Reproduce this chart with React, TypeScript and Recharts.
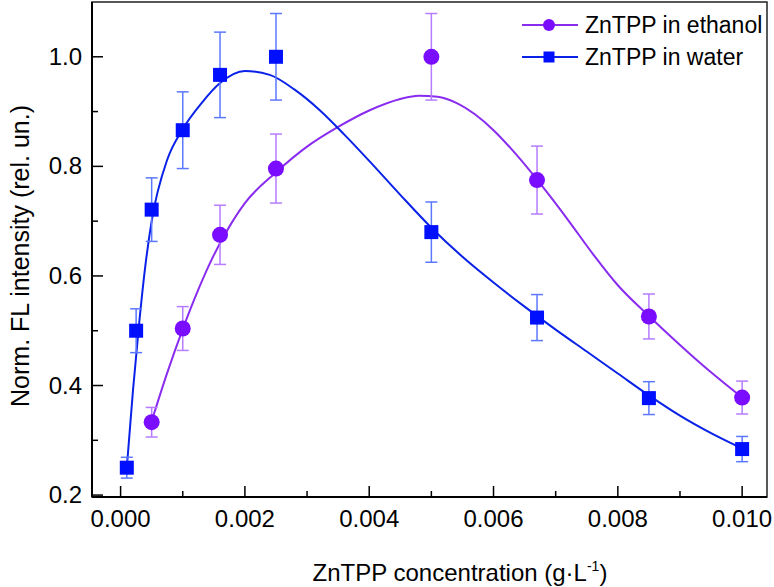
import React from "react";
import { ComposedChart, Line, Scatter, ErrorBar, XAxis, YAxis, ReferenceArea } from "recharts";

// measured points
const ethanolX = [0.0005, 0.001, 0.0016, 0.0025, 0.005, 0.0067, 0.0085, 0.01];
const ethanolY = [0.333, 0.504, 0.675, 0.796, 1.0, 0.775, 0.526, 0.378];
const ethanolErr = [0.027, 0.04, 0.054, 0.063, 0.079, 0.062, 0.041, 0.03];

const waterX = [0.0001, 0.00025, 0.0005, 0.001, 0.0016, 0.0025, 0.005, 0.0067, 0.0085, 0.01];
const waterY = [0.25, 0.5, 0.721, 0.866, 0.967, 1.0, 0.68, 0.524, 0.377, 0.284];
const waterErr = [0.019, 0.04, 0.058, 0.07, 0.078, 0.079, 0.055, 0.042, 0.03, 0.023];

// fitted curves
const ethanolFitX = [0.0005, 0.00075, 0.001, 0.00125, 0.0015, 0.00175, 0.002, 0.0025, 0.003, 0.0035, 0.004, 0.0045, 0.0048, 0.0051, 0.0054, 0.0057, 0.006, 0.0063, 0.0066, 0.0069, 0.0072, 0.0076, 0.008, 0.0085, 0.009, 0.0095, 0.01];
const ethanolFitY = [0.335, 0.423, 0.503, 0.575, 0.638, 0.69, 0.733, 0.789, 0.836, 0.872, 0.902, 0.923, 0.929, 0.927, 0.916, 0.895, 0.866, 0.83, 0.79, 0.747, 0.702, 0.64, 0.583, 0.527, 0.474, 0.424, 0.378];

const waterFitX = [0.0001, 0.0002, 0.0003, 0.0004, 0.0005, 0.00075, 0.001, 0.0013, 0.0016, 0.002, 0.0024, 0.0028, 0.0032, 0.0036, 0.004, 0.0045, 0.005, 0.0055, 0.006, 0.0065, 0.007, 0.0075, 0.008, 0.0085, 0.009, 0.0095, 0.01];
const waterFitY = [0.25, 0.392, 0.515, 0.62, 0.7, 0.812, 0.868, 0.915, 0.952, 0.974, 0.967, 0.94, 0.903, 0.858, 0.81, 0.748, 0.688, 0.635, 0.588, 0.544, 0.502, 0.462, 0.422, 0.382, 0.345, 0.313, 0.285];

const xTicks = [0, 0.001, 0.002, 0.003, 0.004, 0.005, 0.006, 0.007, 0.008, 0.009, 0.01];
const yTicks = [0.2, 0.3, 0.4, 0.5, 0.6, 0.7, 0.8, 0.9, 1.0];

const X_DOMAIN = [-0.00046, 0.0104];
const Y_DOMAIN = [0.1965, 1.1];

const PURPLE = "#7a0cff";
const PURPLE_LINE = "#8a2cf0";
const PURPLE_ERR = "#b57cff";
const BLUE = "#0010ff";
const BLUE_LINE = "#0a22e8";
const BLUE_ERR = "#5c78ff";
const FONT = "'Liberation Sans', Arial, Helvetica, sans-serif";

const zip = (xs: number[], ys: number[], es?: number[]) =>
  xs.map((x, i) => ({ x, y: ys[i], err: es ? es[i] : 0 }));

const ethanolPts = zip(ethanolX, ethanolY, ethanolErr);
const waterPts = zip(waterX, waterY, waterErr);
const ethanolFit = zip(ethanolFitX, ethanolFitY);
const waterFit = zip(waterFitX, waterFitY);

function XTick(props: any) {
  const { x, y, payload } = props;
  const v = payload.value;
  const major = Math.round(v * 1000) % 2 === 0;
  return (
    <g>
      <line x1={x} x2={x} y1={y} y2={y - (major ? 11 : 6)} stroke="#000" strokeWidth={1.5} />
      {major && (
        <text x={x} y={y + 30} textAnchor="middle" fontSize={24} fill="#000" fontFamily={FONT}>
          {v.toFixed(3)}
        </text>
      )}
    </g>
  );
}

function YTick(props: any) {
  const { x, y, payload } = props;
  const v = payload.value;
  const major = Math.round(v * 10) % 2 === 0;
  return (
    <g>
      <line x1={x} x2={x + (major ? 11 : 6)} y1={y} y2={y} stroke="#000" strokeWidth={1.5} />
      {major && (
        <text x={x - 10} y={y + 8} textAnchor="end" fontSize={24} fill="#000" fontFamily={FONT}>
          {v.toFixed(1)}
        </text>
      )}
    </g>
  );
}

const Square = (props: any) => (
  <rect x={props.cx - 7} y={props.cy - 7} width={14} height={14} fill={BLUE} />
);
const Dot = (props: any) => <circle cx={props.cx} cy={props.cy} r={8} fill={PURPLE} />;

export default function App() {
  return (
    <div style={{ position: "relative", width: 774, height: 587, fontFamily: FONT, background: "#fff" }}>
      <style>{"body{margin:0}"}</style>
      <ComposedChart width={774} height={587} margin={{ top: 2, right: 7, bottom: 0, left: 0 }}>
        <XAxis
          type="number"
          dataKey="x"
          domain={X_DOMAIN}
          allowDataOverflow
          ticks={xTicks}
          interval={0}
          tick={<XTick />}
          tickSize={0}
          tickMargin={0}
          tickLine={false}
          axisLine={{ stroke: "#000", strokeWidth: 2 }}
          height={90}
        />
        <YAxis
          type="number"
          dataKey="y"
          domain={Y_DOMAIN}
          allowDataOverflow
          ticks={yTicks}
          interval={0}
          tick={<YTick />}
          tickSize={0}
          tickMargin={0}
          tickLine={false}
          axisLine={{ stroke: "#000", strokeWidth: 2 }}
          width={92}
        />
        <ReferenceArea
          x1={X_DOMAIN[0]}
          x2={X_DOMAIN[1]}
          y1={Y_DOMAIN[0]}
          y2={Y_DOMAIN[1]}
          fill="none"
          stroke="#222"
          strokeWidth={1.5}
          ifOverflow="visible"
        />
        <Line data={ethanolFit} dataKey="y" type="monotone" stroke={PURPLE_LINE} strokeWidth={2} dot={false} isAnimationActive={false} />
        <Line data={waterFit} dataKey="y" type="monotone" stroke={BLUE_LINE} strokeWidth={2} dot={false} isAnimationActive={false} />
        <Scatter data={ethanolPts} dataKey="y" shape={<Dot />} isAnimationActive={false}>
          <ErrorBar dataKey="err" direction="y" width={6} stroke={PURPLE_ERR} strokeWidth={1.5} isAnimationActive={false} />
        </Scatter>
        <Scatter data={waterPts} dataKey="y" shape={<Square />} isAnimationActive={false}>
          <ErrorBar dataKey="err" direction="y" width={6} stroke={BLUE_ERR} strokeWidth={1.5} isAnimationActive={false} />
        </Scatter>
      </ComposedChart>
      <svg width={774} height={587} style={{ position: "absolute", left: 0, top: 0, pointerEvents: "none" }}>
        {/* legend */}
        <line x1={522} x2={578} y1={25} y2={25} stroke={PURPLE_LINE} strokeWidth={2} />
        <circle cx={549} cy={25} r={6} fill={PURPLE} />
        <text x={585} y={33} fontSize={23} fill="#000" fontFamily={FONT}>ZnTPP in ethanol</text>
        <line x1={522} x2={578} y1={57} y2={57} stroke={BLUE_LINE} strokeWidth={2} />
        <rect x={543.5} y={51.5} width={11} height={11} fill={BLUE} />
        <text x={585} y={65} fontSize={23} fill="#000" fontFamily={FONT}>ZnTPP in water</text>
        {/* axis titles */}
        <text x={460} y={581} textAnchor="middle" fontSize={24} fill="#000" fontFamily={FONT}>
          ZnTPP concentration (g·L
          <tspan dy={-10} fontSize={14}>-1</tspan>
          <tspan dy={10}>)</tspan>
        </text>
        <text
          transform="translate(29,256) rotate(-90)"
          textAnchor="middle"
          fontSize={25}
          fill="#000"
          fontFamily={FONT}
        >
          Norm. FL intensity (rel. un.)
        </text>
      </svg>
    </div>
  );
}
